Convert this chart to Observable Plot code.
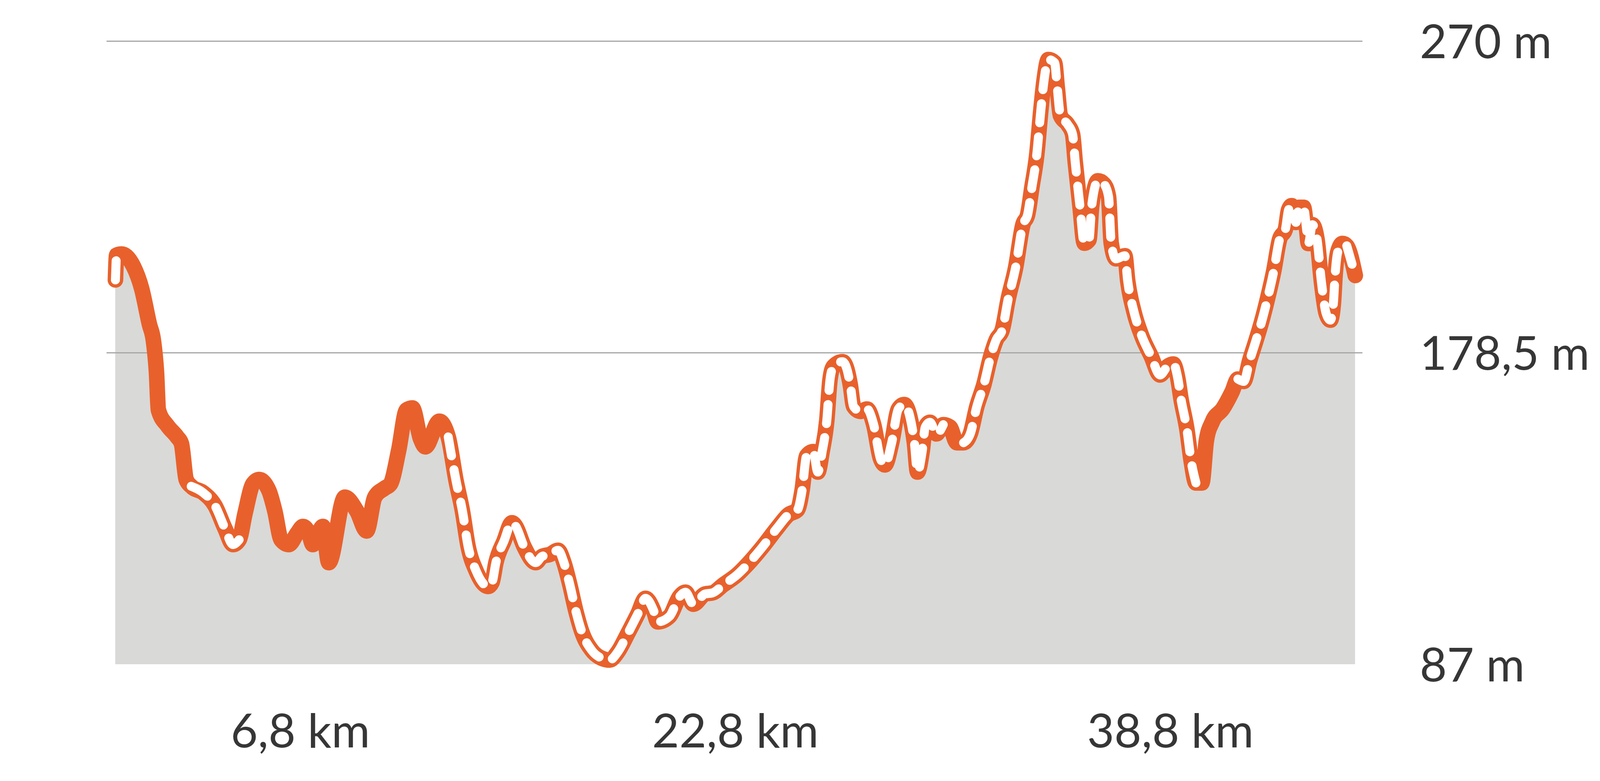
<!DOCTYPE html>
<html>
<head>
<meta charset="utf-8">
<script src="https://cdn.jsdelivr.net/npm/d3@7"></script>
<script src="https://cdn.jsdelivr.net/npm/@observablehq/plot@0.6"></script>
<style>
  html, body { margin: 0; padding: 0; background: #ffffff; }
  #chart { width: 4320px; height: 2000px; }
</style>
</head>
<body>
<div id="chart"></div>
<script>
// Distance along the route (km)
const distanceKm = [
  0, 0.045, 0.231, 0.662, 0.963, 1.252, 1.395, 1.509, 1.581, 1.913,
  2.269, 2.428, 2.602, 2.788, 3.231, 3.663, 4.035, 4.324, 4.55, 4.771,
  5.056, 5.29, 5.646, 5.864, 6.093, 6.378, 6.683, 6.897, 7.115, 7.257,
  7.629, 7.847, 8.437, 8.88, 9.24, 9.537, 9.894, 10.115, 10.416, 10.705,
  10.922, 11.223, 11.397, 11.912, 12.24, 12.529, 12.759, 12.973, 13.258, 13.709,
  13.852, 13.994, 14.295, 14.584, 14.727, 15.028, 15.459, 15.689, 15.978, 16.279,
  16.495, 16.709, 16.927, 17.157, 17.513, 17.889, 18.178, 18.479, 18.839, 19.211,
  19.496, 19.789, 19.943, 20.375, 20.747, 20.965, 21.254, 21.689, 21.954, 22.362,
  22.861, 23.273, 23.768, 24.342, 24.757, 25.086, 25.26, 25.418, 25.664, 25.834,
  25.992, 26.163, 26.281, 26.408, 26.74, 26.899, 27.025, 27.152, 27.401, 27.643,
  27.888, 28.134, 28.3, 28.55, 28.795, 29.009, 29.211, 29.385, 29.5, 29.67,
  29.785, 29.959, 30.2, 30.446, 30.691, 30.948, 31.194, 31.439, 31.68, 31.941,
  32.183, 32.4, 32.614, 32.832, 33.105, 33.378, 33.548, 33.706, 33.88, 34.039,
  34.149, 34.312, 34.541, 34.64, 34.755, 35.028, 35.202, 35.301, 35.472, 35.634,
  35.804, 35.907, 36.137, 36.35, 36.525, 36.624, 36.798, 37.126, 37.229, 37.459,
  37.76, 38.088, 38.421, 38.694, 38.908, 39.078, 39.185, 39.41, 39.569, 39.739,
  39.957, 40.123, 40.345, 40.729, 41.065, 41.283, 41.497, 41.718, 41.94, 42.154,
  42.372, 42.601, 42.815, 43.033, 43.144, 43.258, 43.42, 43.535, 43.697, 43.808,
  43.875, 44.022, 44.196, 44.354, 44.528, 44.686, 44.797, 44.857, 44.956, 45.13,
  45.288, 45.6
];
// Elevation (m)
const elevationM = [
  199.9, 207.2, 207.5, 203.9, 197.4, 186.8, 182.2, 172.9, 161.7, 157.1,
  153.8, 151.8, 141.3, 139.3, 137.4, 133.6, 126.8, 122.2, 123.6, 131.5,
  140.0, 141.3, 138.0, 132.0, 123.6, 122.2, 125.5, 127.5, 125.5, 122.2,
  127.5, 116.9, 136.1, 132.0, 126.2, 136.1, 138.7, 140.0, 149.8, 161.7,
  162.3, 153.2, 150.9, 158.4, 153.8, 140.9, 132.2, 121.6, 114.6, 109.9,
  111.1, 116.9, 123.3, 128.6, 127.5, 121.6, 116.9, 118.7, 119.3, 120.5,
  116.9, 110.5, 102.9, 96.5, 91.2, 88.8, 88.3, 90.7, 96.0, 101.8,
  106.4, 102.9, 99.5, 101.1, 106.9, 108.2, 104.7, 107.7, 108.0, 110.4,
  113.3, 116.6, 121.2, 127.1, 131.0, 132.4, 138.4, 148.2, 149.5, 143.5,
  149.5, 158.6, 170.6, 174.5, 175.9, 173.8, 169.2, 162.7, 161.3, 162.0,
  157.4, 147.5, 145.6, 152.1, 162.0, 163.3, 160.0, 152.1, 143.5, 149.5,
  156.7, 158.1, 154.7, 157.4, 156.7, 152.1, 152.1, 154.7, 162.7, 169.2,
  177.2, 182.4, 185.2, 194.2, 203.4, 216.2, 219.0, 227.1, 236.3, 250.0,
  258.2, 264.6, 263.7, 256.4, 248.2, 245.5, 242.7, 234.5, 221.7, 210.7,
  211.6, 221.7, 229.0, 228.1, 224.4, 210.7, 206.1, 207.0, 199.7, 190.6,
  183.2, 177.6, 172.0, 174.5, 175.2, 170.8, 165.2, 155.9, 146.5, 140.3,
  140.3, 152.7, 158.3, 162.1, 167.0, 170.8, 170.1, 176.3, 181.9, 187.6,
  194.4, 202.5, 211.8, 214.9, 220.4, 221.7, 216.8, 221.2, 221.2, 214.9,
  210.6, 216.1, 211.7, 199.4, 190.1, 188.1, 193.2, 201.2, 208.1, 210.6,
  209.9, 201.2
];
// Stretches drawn with the white dashed centre (start km, end km)
const dashedStretches = [
  [0, 0.231], [2.788, 4.55], [12.24, 30.446], [31.194, 39.739],
  [41.283, 45.13], [45.288, 45.6]
];
const xDomain = [0, 45.6];
const yDomain = [87, 270];
const xTicks = [6.8, 22.8, 38.8];
const yTicks = [87, 178.5, 270];
const gridValues = [178.5, 270];

const fmtNum = v => String(v).replace(".", ",");

const profile = distanceKm.map((km, i) => ({ km, m: elevationM[i] }));
const dashed = [];
dashedStretches.forEach(([a, b], s) => {
  profile.forEach(d => {
    if (d.km >= a - 1e-9 && d.km <= b + 1e-9) dashed.push({ ...d, seg: s });
  });
});

const orange = "#e8612c";
const curve = "monotone-x";

const chart = Plot.plot({
  width: 4320,
  height: 2000,
  marginLeft: 295,
  marginRight: 851,
  marginTop: 105,
  marginBottom: 299,
  x: { domain: xDomain },
  y: { domain: yDomain },
  style: { fontFamily: "Lato, 'Noto Sans', sans-serif", fontSize: "120px", color: "#363636", background: "#ffffff" },
  marks: [
    Plot.areaY(profile, { x: "km", y1: yDomain[0], y2: "m", fill: "#d9d9d7", curve }),
    Plot.ruleY(gridValues, { x1: xDomain[0] - 0.32, x2: xDomain[1] + 0.27, stroke: "#a6a6a6", strokeWidth: 3 }),
    Plot.line(profile, { x: "km", y: "m", stroke: orange, strokeWidth: 40, strokeLinecap: "round", strokeLinejoin: "round", curve }),
    Plot.line(dashed, { x: "km", y: "m", z: "seg", stroke: "#ffffff", strokeWidth: 23, strokeLinecap: "round", strokeLinejoin: "round", strokeDasharray: "49,36", curve }),
    Plot.axisX({ ticks: xTicks, tickSize: 0, tickPadding: 127, tickFormat: d => `${fmtNum(d)} km`, label: null, fontSize: 120 }),
    Plot.axisY({ anchor: "right", ticks: yTicks, tickSize: 0, tickPadding: 165, tickFormat: d => `${fmtNum(d)} m`, label: null, fontSize: 120, dy: 5 })
  ]
});
document.getElementById("chart").appendChild(chart);
</script>
</body>
</html>
